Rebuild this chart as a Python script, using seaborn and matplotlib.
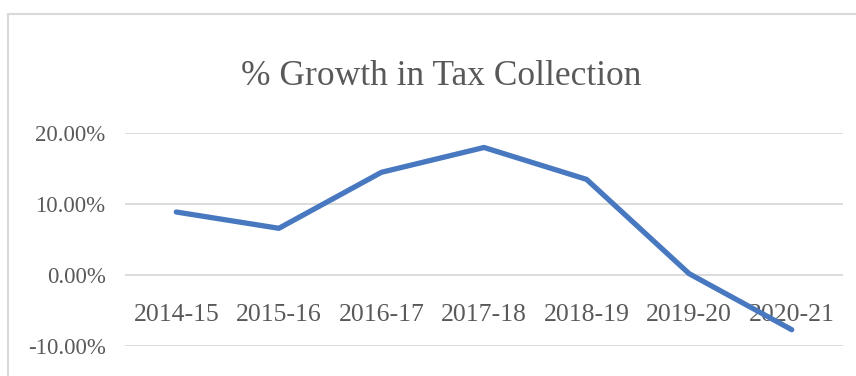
import matplotlib
matplotlib.use("Agg")
import matplotlib.pyplot as plt
from matplotlib.lines import Line2D
from matplotlib.ticker import PercentFormatter, MultipleLocator
import pandas as pd
import seaborn as sns

# Year-over-year growth in tax collection
years = ["2014-15", "2015-16", "2016-17", "2017-18", "2018-19", "2019-20", "2020-21"]
growth = [0.089, 0.066, 0.145, 0.180, 0.135, 0.002, -0.077]

TEXT = "#595959"
GRID = "#d9d9d9"
LINE = "#4878c0"

sns.set_theme(style="white")
plt.rcParams["font.family"] = ["Liberation Serif", "DejaVu Serif"]
plt.rcParams["axes.unicode_minus"] = False

df = pd.DataFrame({"year": years, "growth": growth})

fig = plt.figure(figsize=(8.56, 3.76), dpi=100)
W, H = 856, 376
ax = fig.add_axes([125 / W, (H - 346) / H, (843 - 125) / W, (346 - 133.3) / H])

sns.lineplot(data=df, x="year", y="growth", sort=False, ax=ax, color=LINE,
             linewidth=3.8, solid_capstyle="round", solid_joinstyle="round", zorder=3)

ax.set_xlim(-0.5, len(years) - 0.5)
ax.set_ylim(-0.10, 0.20)
ax.yaxis.set_major_locator(MultipleLocator(0.10))
ax.yaxis.set_major_formatter(PercentFormatter(xmax=1, decimals=2))
ax.grid(axis="y", color=GRID, linewidth=1.3)
ax.grid(axis="x", visible=False)
ax.set_axisbelow(True)

# category labels sit next to the zero line
ax.spines["bottom"].set_position(("data", 0))
for s in ax.spines.values():
    s.set_visible(False)

ax.tick_params(axis="x", length=0, pad=21, labelsize=18.5, labelcolor=TEXT)
ax.tick_params(axis="y", length=0, pad=14, labelsize=16.5, labelcolor=TEXT)
ax.set_xlabel("")
ax.set_ylabel("")

fig.text(441 / W, (H - 85) / H, "% Growth in Tax Collection", ha="center",
         va="baseline", fontsize=25.5, color=TEXT)

# chart frame
fig.add_artist(Line2D([8 / W, 8 / W], [0, (H - 14) / H], color=GRID, linewidth=1.5,
                      transform=fig.transFigure))
fig.add_artist(Line2D([8 / W, 1], [(H - 14) / H, (H - 14) / H], color=GRID,
                      linewidth=1.5, transform=fig.transFigure))

fig.savefig("out.png", dpi=100, facecolor="white")
